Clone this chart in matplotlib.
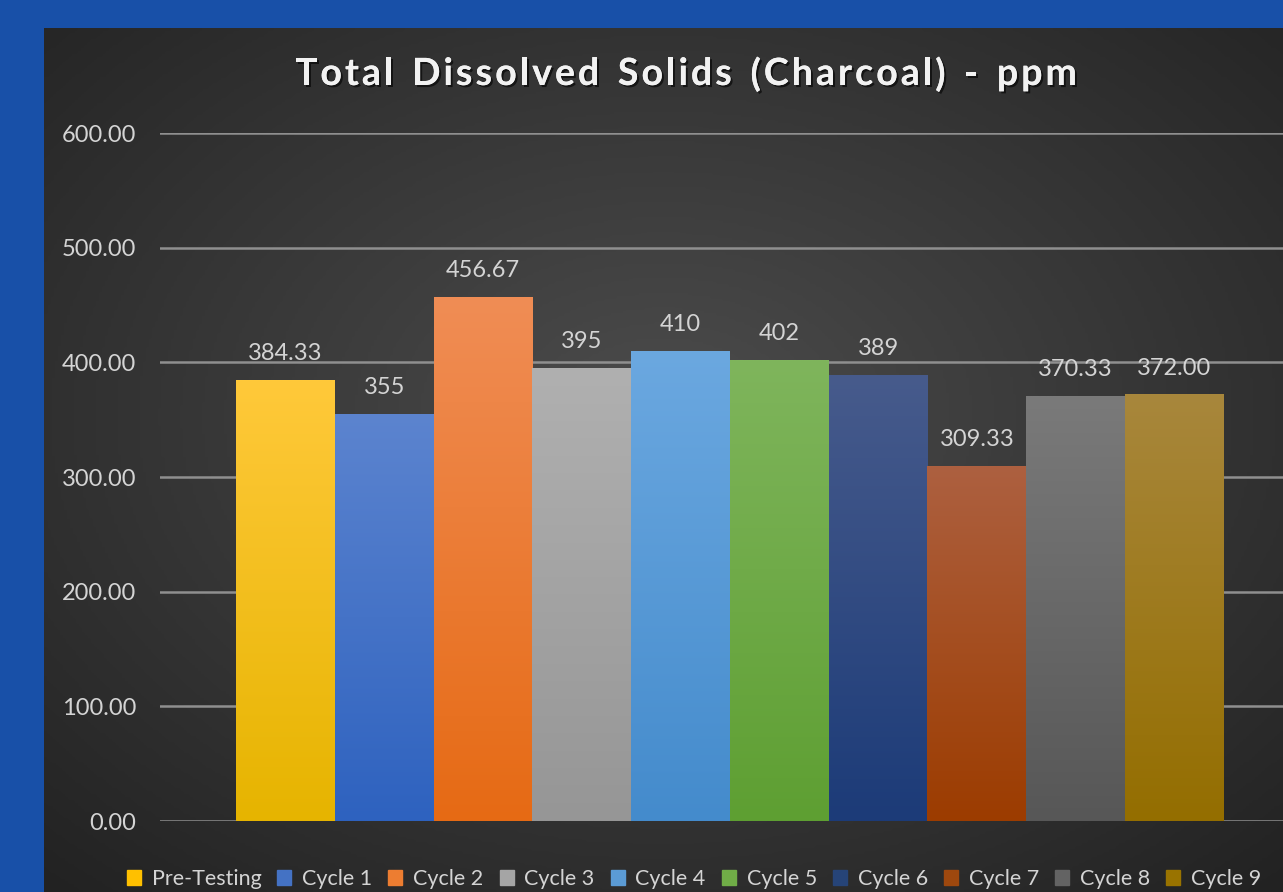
import numpy as np
import matplotlib
matplotlib.use('Agg')
import matplotlib.pyplot as plt
import matplotlib.colors as mcolors
import matplotlib.patheffects as pe

# data
series = ['Pre-Testing', 'Cycle 1', 'Cycle 2', 'Cycle 3', 'Cycle 4',
          'Cycle 5', 'Cycle 6', 'Cycle 7', 'Cycle 8', 'Cycle 9']
values = [384.33, 355, 456.67, 395, 410, 402, 389, 309.33, 370.33, 372.00]
labels = ['384.33', '355', '456.67', '395', '410', '402', '389', '309.33', '370.33', '372.00']
yticks = [0, 100, 200, 300, 400, 500, 600]
title = 'Total Dissolved Solids (Charcoal) - ppm'

# colours: (top, bottom, legend)
tops = ['#ffc93a', '#5c84cf', '#f08d55', '#b0b0b0', '#6ba8e0',
        '#7fb55c', '#475b8c', '#ad6040', '#7a7a7a', '#a8873c']
bottoms = ['#e6b400', '#2e62bf', '#e66a14', '#969696', '#448bcc',
           '#5e9f32', '#1c3b78', '#9c3c00', '#575757', '#946e00']
legend_cols = ['#ffc000', '#4472c4', '#ed7d31', '#a5a5a5', '#5b9bd5',
               '#70ad47', '#264478', '#9e480e', '#636363', '#997300']

FONT = 'Lato'
TXT = '#d4d4d4'

W, H = 1283, 892
fig = plt.figure(figsize=(W / 100, H / 100), dpi=100)
fig.patch.set_facecolor('#1850a8')

# dark chart panel with radial gradient
px0, py0 = 44, 28
bg = fig.add_axes([px0 / W, 0, 1 - px0 / W, 1 - py0 / H])
bg.set_axis_off()
yy, xx = np.mgrid[0:1:300j, 0:1:400j]
r = np.sqrt(((xx - 0.5) / 0.75) ** 2 + ((yy - 0.45) / 0.75) ** 2)
r = np.clip(r, 0, 1)
cmap_bg = mcolors.LinearSegmentedColormap.from_list('bg', ['#4c4c4c', '#222222'])
bg.imshow(r, cmap=cmap_bg, aspect='auto', extent=[0, 1, 0, 1], origin='upper')
bg.set_xlim(0, 1)
bg.set_ylim(0, 1)

# plot area
ax_l, ax_r = 160, 1283
ax_b, ax_t = 821, 133
ax = fig.add_axes([ax_l / W, (H - ax_b) / H, (ax_r - ax_l) / W, (ax_b - ax_t) / H])
ax.patch.set_alpha(0)
for s in ax.spines.values():
    s.set_visible(False)

x = np.arange(len(values))
bars = ax.bar(x, values, width=1.0, color='none', edgecolor='none', zorder=3)
ax.set_xlim(-1.27, 10.1)
ax.set_ylim(0, 600)

grad = np.linspace(0, 1, 256).reshape(-1, 1)
for b, top, bot in zip(bars, tops, bottoms):
    cm = mcolors.LinearSegmentedColormap.from_list('g', [top, bot])
    bx, by = b.get_x(), b.get_y()
    bw, bh = b.get_width(), b.get_height()
    im = ax.imshow(grad, cmap=cm, aspect='auto', extent=[bx, bx + bw, by, by + bh],
                   origin='upper', zorder=3)
    im.set_clip_path(b)

for xi, v, lab in zip(x, values, labels):
    ax.annotate(lab, (xi, v), xytext=(0, 19), textcoords='offset points',
                ha='center', va='center', fontsize=17, color=TXT,
                family=FONT, zorder=4)

ax.set_yticks(yticks)
ax.set_yticklabels(['%.2f' % t for t in yticks])
ax.set_xticks([])
ax.tick_params(axis='y', length=0, pad=17, labelsize=17, labelcolor=TXT)
for lab in ax.get_yticklabels():
    lab.set_family(FONT)
ax.yaxis.grid(True, color='#8f8f8f', linewidth=1.8, zorder=0)
ax.set_axisbelow(True)

# title, drawn letter by letter to get the wide letter spacing
renderer = fig.canvas.get_renderer()
shadow = [pe.withSimplePatchShadow(offset=(1.5, -1.5), shadow_rgbFace='black', alpha=0.6),
          pe.Normal()]
chars = []
widths = []
for ch in title:
    t = fig.text(0, 1 - 74 / H, ch if ch != ' ' else '-', ha='left', va='center',
                 fontsize=27, fontweight='bold', color='#f2f2f2', family=FONT,
                 path_effects=shadow)
    widths.append(t.get_window_extent(renderer).width)
    if ch == ' ':
        t.set_text(' ')
        widths[-1] *= 0.9
    chars.append(t)
total = 782
gap = (total - sum(widths)) / (len(chars) - 1)
xpos = 295
for t, w in zip(chars, widths):
    t.set_x(xpos / W)
    xpos += w + gap

# legend
handles = [plt.Rectangle((0, 0), 1, 1, color=c) for c in legend_cols]
leg = fig.legend(handles, series, loc='center', bbox_to_anchor=(694 / W, 1 - 879 / H),
                 ncol=10, frameon=False, handlelength=0.65, handleheight=0.65,
                 handletextpad=0.5, columnspacing=0.75, labelcolor=TXT,
                 prop={'family': FONT, 'size': 15.5})

fig.savefig('out.png', dpi=100, facecolor=fig.get_facecolor())
